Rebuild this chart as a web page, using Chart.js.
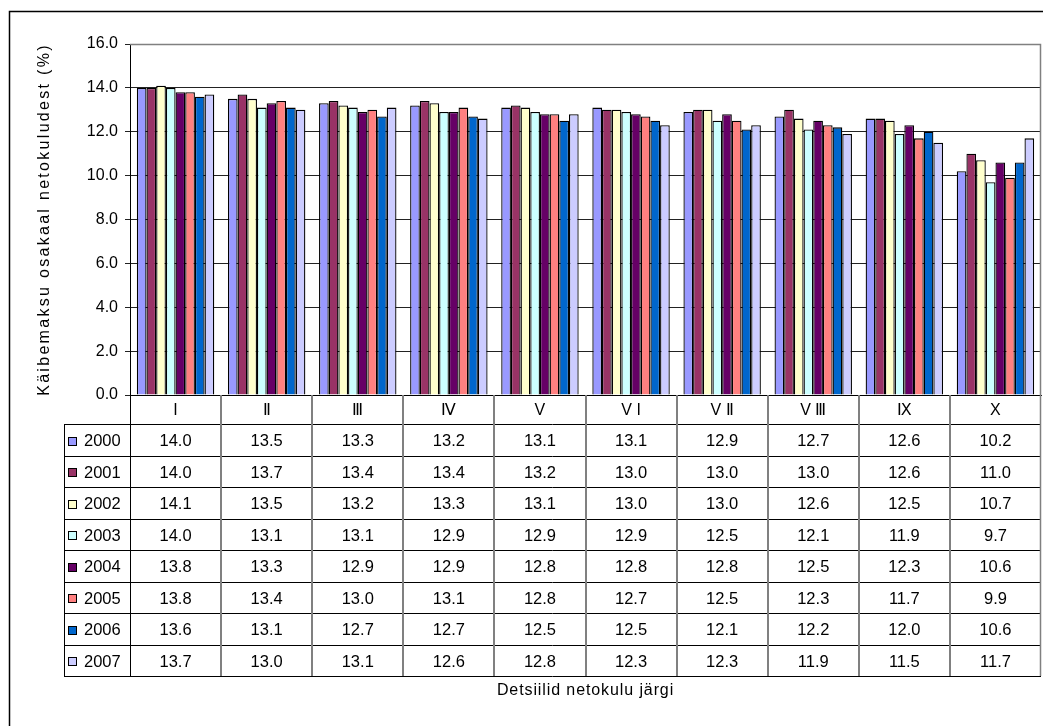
<!DOCTYPE html>
<html>
<head>
<meta charset="utf-8">
<script src="https://cdn.jsdelivr.net/npm/chart.js@4"></script>
<style>
  body { margin: 0; background: #fff; }
  #wrap { width: 1043px; height: 726px; }
</style>
</head>
<body>
<div id="wrap"><canvas id="grafik" width="1043" height="726"></canvas></div>
<script>
// Kategooriad (detsiilid)
const detsiilid = ["I", "Ⅱ", "Ⅲ", "Ⅳ", "V", "V I", "V Ⅱ", "V Ⅲ", "Ⅸ", "X"];
// Aastad
const aastad = ["2000", "2001", "2002", "2003", "2004", "2005", "2006", "2007"];
// Väärtused aastate kaupa
const v2000 = [14.0, 13.5, 13.3, 13.2, 13.1, 13.1, 12.9, 12.7, 12.6, 10.2];
const v2001 = [14.0, 13.7, 13.4, 13.4, 13.2, 13.0, 13.0, 13.0, 12.6, 11.0];
const v2002 = [14.1, 13.5, 13.2, 13.3, 13.1, 13.0, 13.0, 12.6, 12.5, 10.7];
const v2003 = [14.0, 13.1, 13.1, 12.9, 12.9, 12.9, 12.5, 12.1, 11.9, 9.7];
const v2004 = [13.8, 13.3, 12.9, 12.9, 12.8, 12.8, 12.8, 12.5, 12.3, 10.6];
const v2005 = [13.8, 13.4, 13.0, 13.1, 12.8, 12.7, 12.5, 12.3, 11.7, 9.9];
const v2006 = [13.6, 13.1, 12.7, 12.7, 12.5, 12.5, 12.1, 12.2, 12.0, 10.6];
const v2007 = [13.7, 13.0, 13.1, 12.6, 12.8, 12.3, 12.3, 11.9, 11.5, 11.7];
// Telje jaotised
const yTicks = [0, 2, 4, 6, 8, 10, 12, 14, 16];

const andmed = [v2000, v2001, v2002, v2003, v2004, v2005, v2006, v2007];
const varvid = ["#9999ff", "#993366", "#ffffcc", "#ccffff", "#660066", "#ff8080", "#0066cc", "#ccccff"];
const FONT = "'Liberation Sans', Arial, sans-serif";

// --- Andmetabel graafiku all ---
const tabel = {
  id: "tabel",
  afterDraw(chart) {
    const ctx = chart.ctx;
    const area = chart.chartArea;
    const x = chart.scales.x;
    const n = detsiilid.length;
    const samm = (area.right - area.left) / n;
    const headTop = area.bottom;
    const ridaTop = 424;
    const ridaH = 31.5;
    const tabelAll = ridaTop + ridaH * aastad.length;
    const vasak = 64;

    ctx.save();
    // horisontaalsed jooned
    ctx.strokeStyle = "#000";
    ctx.lineWidth = 1;
    for (let r = 0; r <= aastad.length; r++) {
      const y = Math.round(ridaTop + r * ridaH) + 0.5;
      ctx.beginPath(); ctx.moveTo(vasak, y); ctx.lineTo(area.right, y); ctx.stroke();
    }
    // vasak serv
    ctx.beginPath(); ctx.moveTo(vasak + 0.5, ridaTop); ctx.lineTo(vasak + 0.5, tabelAll); ctx.stroke();
    ctx.beginPath(); ctx.moveTo(area.left + 0.5, headTop); ctx.lineTo(area.left + 0.5, tabelAll); ctx.stroke();

    // vertikaalsed eraldajad
    ctx.strokeStyle = "#808080";
    ctx.lineWidth = 2;
    for (let i = 1; i < n; i++) {
      const px = Math.round(area.left + i * samm);
      ctx.beginPath(); ctx.moveTo(px, headTop); ctx.lineTo(px, tabelAll); ctx.stroke();
    }
    // graafiku ala parem ja ülemine serv
    ctx.lineWidth = 1.5;
    ctx.beginPath();
    ctx.moveTo(area.left, area.top + 0.5);
    ctx.lineTo(area.right - 0.5, area.top + 0.5);
    ctx.lineTo(area.right - 0.5, tabelAll);
    ctx.stroke();

    // väärtused ja legend
    ctx.font = "16.5px " + FONT;
    ctx.textBaseline = "middle";
    aastad.forEach((a, r) => {
      const yc = ridaTop + r * ridaH + ridaH / 2 + 2;
      ctx.fillStyle = varvid[r];
      ctx.fillRect(68, Math.round(yc - 5), 8, 8);
      ctx.strokeStyle = "#000";
      ctx.lineWidth = 1;
      ctx.strokeRect(68.5, Math.round(yc - 5) + 0.5, 8, 8);
      ctx.fillStyle = "#000";
      ctx.textAlign = "left";
      ctx.fillText(a, 84, yc);
      ctx.textAlign = "center";
      andmed[r].forEach((v, i) => {
        ctx.fillText(v.toFixed(1), x.getPixelForValue(i), yc);
      });
    });

    // x-telje pealkiri
    ctx.font = "16px " + FONT;
    ctx.letterSpacing = "0.9px";
    ctx.textAlign = "center";
    ctx.fillText("Detsiilid netokulu järgi", (area.left + area.right) / 2, 691);

    // y-telje pealkiri
    ctx.save();
    ctx.translate(45, (area.top + area.bottom) / 2);
    ctx.rotate(-Math.PI / 2);
    ctx.letterSpacing = "2.3px";
    ctx.fillText("Käibemaksu osakaal netokuludest (%)", 0, 0);
    ctx.restore();
    ctx.letterSpacing = "0px";

    // välimine raam
    ctx.strokeStyle = "#000";
    ctx.lineWidth = 1.5;
    ctx.beginPath();
    ctx.moveTo(9.5, 726);
    ctx.lineTo(9.5, 11.5);
    ctx.lineTo(1043, 11.5);
    ctx.stroke();
    ctx.restore();
  }
};

new Chart(document.getElementById("grafik").getContext("2d"), {
  type: "bar",
  data: {
    labels: detsiilid,
    datasets: aastad.map((a, i) => ({
      label: a,
      data: andmed[i],
      backgroundColor: varvid[i],
      borderColor: "#000",
      borderWidth: 1.3,
      categoryPercentage: 0.85,
      barPercentage: 1.0
    }))
  },
  options: {
    responsive: false,
    animation: false,
    layout: { padding: { left: 30, top: 44, right: 2, bottom: 0 } },
    plugins: {
      legend: { display: false },
      tooltip: { enabled: false }
    },
    scales: {
      x: {
        grid: { display: false, drawTicks: false },
        border: { display: true, color: "#000", width: 1 },
        ticks: { color: "#000", padding: 6, font: { family: FONT, size: 16 }, maxRotation: 0, autoSkip: false },
        afterFit: s => { s.height = 331; }
      },
      y: {
        min: 0,
        max: 16,
        afterBuildTicks: s => { s.ticks = yTicks.map(v => ({ value: v })); },
        grid: { color: "#222", lineWidth: 1, tickLength: 5 },
        border: { display: true, color: "#000", width: 1 },
        ticks: {
          color: "#000",
          padding: 7,
          font: { family: FONT, size: 16 },
          callback: v => v.toFixed(1)
        },
        title: { display: false },
        afterFit: s => { s.width = 100; }
      }
    }
  },
  plugins: [tabel]
});
</script>
</body>
</html>
